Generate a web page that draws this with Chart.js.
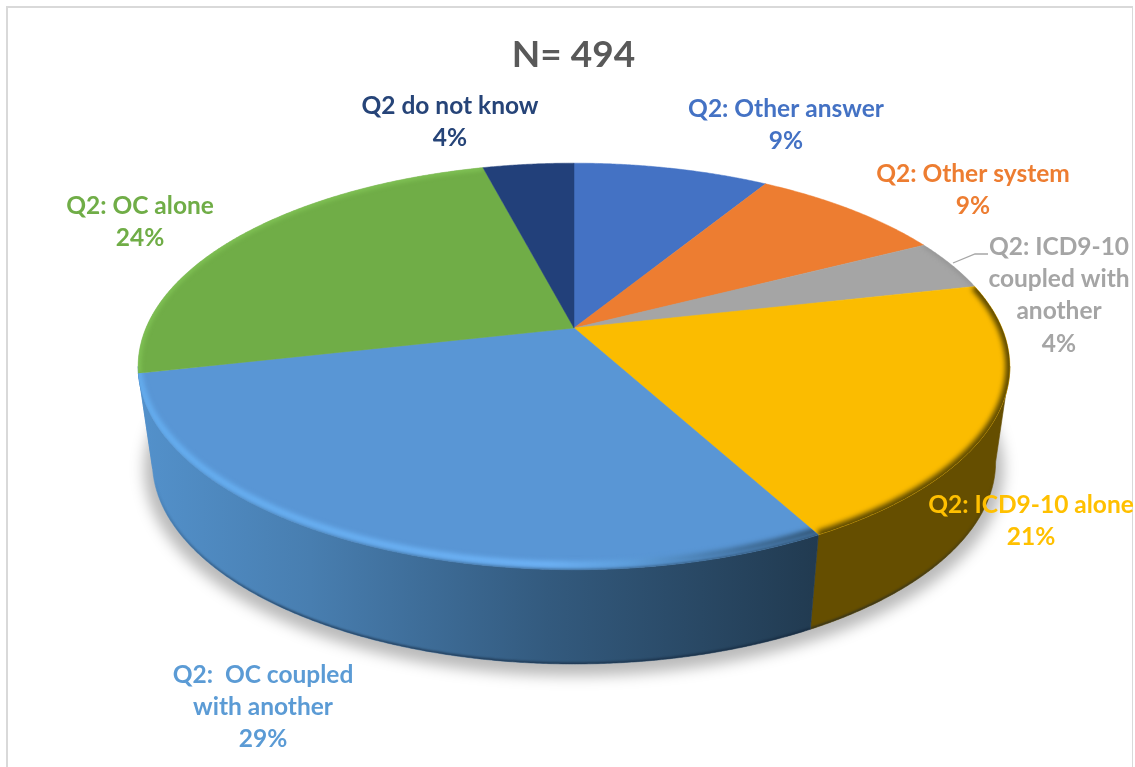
<!DOCTYPE html>
<html>
<head>
<meta charset="utf-8">
<style>html,body{margin:0;padding:0;background:#fff}canvas{display:block}</style>
<script src="https://cdn.jsdelivr.net/npm/chart.js@4"></script>
</head>
<body>
<div style="width:1135px;height:767px"><canvas id="c" width="1135" height="767"></canvas></div>
<script>
// ---- data ----
const chartTitle = "N= 494";
const categories = ["Q2: Other answer","Q2: Other system","Q2: ICD9-10 coupled with another","Q2: ICD9-10 alone","Q2:  OC coupled with another","Q2: OC alone","Q2 do not know"];
const respondents = [43,43,20,102,145,121,20];
const percentLabels = ["9%","9%","4%","21%","29%","24%","4%"];
const labelLines = [["Q2: Other answer"],["Q2: Other system"],["Q2: ICD9-10","coupled with","another"],["Q2: ICD9-10 alone"],["Q2:  OC coupled","with another"],["Q2: OC alone"],["Q2 do not know"]];
// ---- styles ----
const faceColors = ["#4472C4","#ED7D31","#A5A5A5","#FBBC00","#5996D5","#70AD47","#22407A"];
const textColors = ["#4472C4","#ED7D31","#A5A5A5","#FFC000","#5B9BD5","#70AD47","#264478"];
const labelAnchors = [[786,109],[973,174],[1059,247],[1031,505],[263,675],[140,206],[450,106]];
const lineHeight = 32.2;

// projected disc: apex of slices and perspective of the top and bottom rims
const topRim = {cx:574, cy:328, a:428, b:196};
const baseRim = {cx:574, cy:423.8, a:414, b:194.8};
const k = 0.189;
function proj(rim, t, r, dy){
  const X = r*Math.sin(t), Y = -r*Math.cos(t), w = 1-k*Y;
  return [rim.cx + rim.a*X/w, rim.cy + rim.b*Y/w + (dy||0)];
}
function trace(ctx, rim, t0, t1, r, move, dy){
  const n = Math.max(2, Math.ceil(Math.abs(t1-t0)/0.006));
  for(let i=0;i<=n;i++){
    const p = proj(rim, t0+(t1-t0)*i/n, r, dy);
    if(i===0 && move) ctx.moveTo(p[0],p[1]); else ctx.lineTo(p[0],p[1]);
  }
}
function slicePath(ctx, t0, t1){
  ctx.beginPath();
  ctx.moveTo(topRim.cx, topRim.cy);
  trace(ctx, topRim, t0, t1, 1, false);
  ctx.closePath();
}
const WALL_A = Math.acos(-k), WALL_B = 2*Math.PI - Math.acos(-k);

const tiltedPie = {
  id:'tiltedPie',
  beforeDraw(chart){
    const ctx = chart.ctx;
    ctx.save();
    ctx.fillStyle = '#d9d9d9';
    ctx.fillRect(6,6,1127,2);
    ctx.fillRect(6,6,2,761);
    ctx.fillRect(1132,6,1,761);
    ctx.restore();
  },
  beforeDatasetDraw(chart){
    const ctx = chart.ctx;
    const arcs = chart.getDatasetMeta(0).data;
    const ang = arcs.map(a=>[a.startAngle+Math.PI/2, a.endAngle+Math.PI/2]);
    // soft floor shadow
    ctx.save();
    ctx.filter = 'blur(7px)';
    ctx.fillStyle = 'rgba(0,0,0,0.27)';
    ctx.beginPath();
    ctx.ellipse(574,469,430,207,0,0,Math.PI*2);
    ctx.fill();
    ctx.restore();
    // side walls
    const blueWall = ctx.createLinearGradient(140,0,820,0);
    blueWall.addColorStop(0,'#5391CB');
    blueWall.addColorStop(0.25,'#487EB0');
    blueWall.addColorStop(0.6,'#335A7E');
    blueWall.addColorStop(1,'#213A50');
    const edgeShade = ctx.createLinearGradient(0,480,0,610);
    edgeShade.addColorStop(0,'rgba(15,30,50,0)');
    edgeShade.addColorStop(1,'rgba(15,30,50,0.6)');
    const wallFill = ["#304F8A","#8A4A1D","#646464","#654E00",blueWall,"#5391CB","#1A2F58"];
    ang.forEach((g,i)=>{
      const t0 = Math.max(g[0],WALL_A), t1 = Math.min(g[1],WALL_B);
      if(t1<=t0) return;
      ctx.beginPath();
      trace(ctx, topRim, t0, t1, 1, true);
      trace(ctx, baseRim, t1, t0, 1, false);
      ctx.closePath();
      ctx.fillStyle = wallFill[i];
      ctx.strokeStyle = wallFill[i];
      ctx.lineWidth = 0.6;
      ctx.fill(); ctx.stroke();
      // dark bottom edge of the wall
      ctx.save();
      ctx.clip();
      ctx.filter = 'blur(1.2px)';
      ctx.beginPath();
      trace(ctx, baseRim, t0, t1, 1, true);
      ctx.strokeStyle = edgeShade;
      ctx.lineWidth = 3;
      ctx.stroke();
      ctx.restore();
    });
    // top faces
    arcs.forEach((a,i)=>{
      slicePath(ctx, ang[i][0], ang[i][1]);
      ctx.fillStyle = a.options.backgroundColor;
      ctx.strokeStyle = a.options.backgroundColor;
      ctx.lineWidth = 0.5;
      ctx.fill(); ctx.stroke();
    });
    // wall colour bleeding over the outer strip of the blue face
    ctx.save();
    slicePath(ctx,ang[4][0],ang[4][1]);
    ctx.clip();
    ctx.filter = 'blur(1.5px)';
    ctx.beginPath();
    trace(ctx, topRim, ang[4][0], ang[4][1], 1.002, true);
    ctx.strokeStyle = blueWall;
    ctx.lineWidth = 3;
    ctx.stroke();
    ctx.restore();
    // bevel along the rim
    const blueBevel = ctx.createLinearGradient(140,0,820,0);
    blueBevel.addColorStop(0,'#66B0F2');
    blueBevel.addColorStop(0.6,'#70B6FA');
    blueBevel.addColorStop(0.72,'#5E9FDC');
    blueBevel.addColorStop(0.88,'#3F6C96');
    blueBevel.addColorStop(1,'#2C4C68');
    const bevel = [null,null,{c:'#8C8C8C',w:3,d:0},{c:'#5E4A00',w:9,d:0},{c:blueBevel,w:6,d:-5},{c:'#86CA5A',w:4,d:0},null];
    ang.forEach((g,i)=>{
      if(!bevel[i]) return;
      ctx.save();
      slicePath(ctx,g[0],g[1]);
      ctx.clip();
      ctx.filter = 'blur(2.5px)';
      ctx.beginPath();
      trace(ctx, topRim, g[0], g[1], 1, true, bevel[i].d);
      ctx.strokeStyle = bevel[i].c;
      ctx.lineWidth = bevel[i].w;
      ctx.stroke();
      ctx.restore();
    });
    return false;
  },
  afterDatasetsDraw(chart){
    const ctx = chart.ctx;
    ctx.save();
    // leader line of the grey slice
    ctx.strokeStyle = '#A6A6A6';
    ctx.lineWidth = 1.3;
    ctx.beginPath();
    ctx.moveTo(953,263); ctx.lineTo(975,254); ctx.lineTo(988,254);
    ctx.stroke();
    ctx.font = 'bold 24.5px Lato';
    ctx.textAlign = 'center';
    ctx.textBaseline = 'middle';
    labelLines.forEach((lines,i)=>{
      ctx.fillStyle = textColors[i];
      const all = lines.concat(percentLabels[i]);
      all.forEach((s,j)=>{
        ctx.fillText(s, labelAnchors[i][0], labelAnchors[i][1]+j*lineHeight);
      });
    });
    ctx.restore();
  }
};

new Chart(document.getElementById('c'),{
  type:'pie',
  data:{labels:categories,datasets:[{data:respondents,backgroundColor:faceColors,borderWidth:0}]},
  plugins:[tiltedPie],
  options:{
    responsive:false,
    animation:false,
    events:[],
    layout:{padding:{left:12,top:33}},
    plugins:{
      legend:{display:false},
      tooltip:{enabled:false},
      title:{display:true,text:chartTitle,color:'#595959',font:{family:'Lato',size:37,weight:'bold'},padding:{top:0,bottom:0}}
    }
  }
});
</script>
</body>
</html>
